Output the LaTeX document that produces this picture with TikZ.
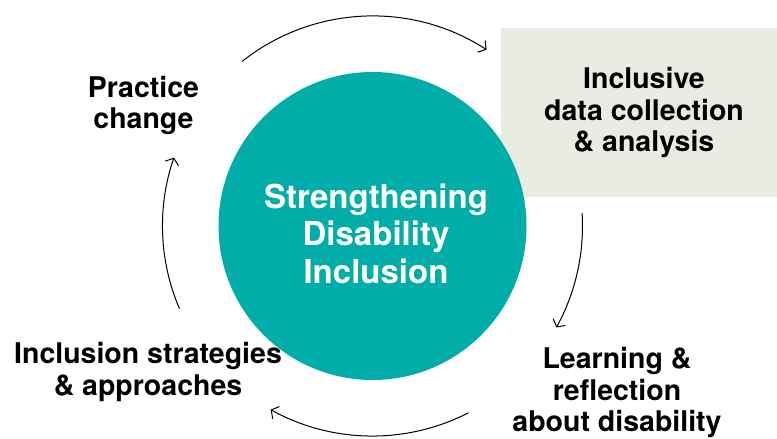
\documentclass[tikz,border=0pt]{standalone}
\usepackage{fontspec}
\setmainfont{TeX Gyre Heros}
\usetikzlibrary{arrows.meta,calc}
\definecolor{teal}{RGB}{0,173,168}
\definecolor{boxgrey}{RGB}{234,236,227}
\tikzset{
  lab/.style={align=center, inner sep=0pt, anchor=base, text=black,
    font=\fontsize{28.5}{31.5}\selectfont\bfseries},
  hub/.style={align=center, inner sep=0pt, anchor=base, text=white,
    font=\fontsize{33}{37.5}\selectfont\bfseries},
  cyc/.style={draw=black, line width=1pt, -{Straight Barb[length=5.5pt,width=14pt,line width=1pt]}}
}
\begin{document}
\begin{tikzpicture}[x=1pt,y=1pt]
\useasboundingbox (0,0) rectangle (777,439);
% box
\fill[boxgrey] (501,242) rectangle (777,411);
% circle
\coordinate (C) at (372.5,213);
\fill[teal] (C) circle[radius=154pt];
% texts (anchor base = baseline of last line)
\node[hub] (hubtext) at (376,155.5) {Strengthening\\Disability\\Inclusion};
\node[lab] (data) at (644,287) {Inclusive\\data collection\\\& analysis};
\node[lab] (learn) at (617,7) {Learning \&\\reflection\\about disability};
\node[lab] (strat) at (148,43.5) {Inclusion strategies\\\& approaches};
\node[lab] (prac) at (143.5,310) {Practice\\change};
% cycle arrows
\coordinate (t1) at ($(C)+(128.4:210pt)$);
\coordinate (r1) at ($(C)+(3.5:210pt)$);
\coordinate (b1) at ($(C)+(-62.8:210pt)$);
\coordinate (l1) at ($(C)+(203.2:210pt)$);
\draw[cyc] (t1) arc[start angle=128.4, end angle=57.1, radius=210pt];
\draw[cyc] (r1) arc[start angle=3.5, end angle=-28.9, radius=210pt];
\draw[cyc] (b1) arc[start angle=-62.8, end angle=-119, radius=210pt];
\draw[cyc] (l1) arc[start angle=203.2, end angle=161, radius=210pt];
\end{tikzpicture}
\end{document}
